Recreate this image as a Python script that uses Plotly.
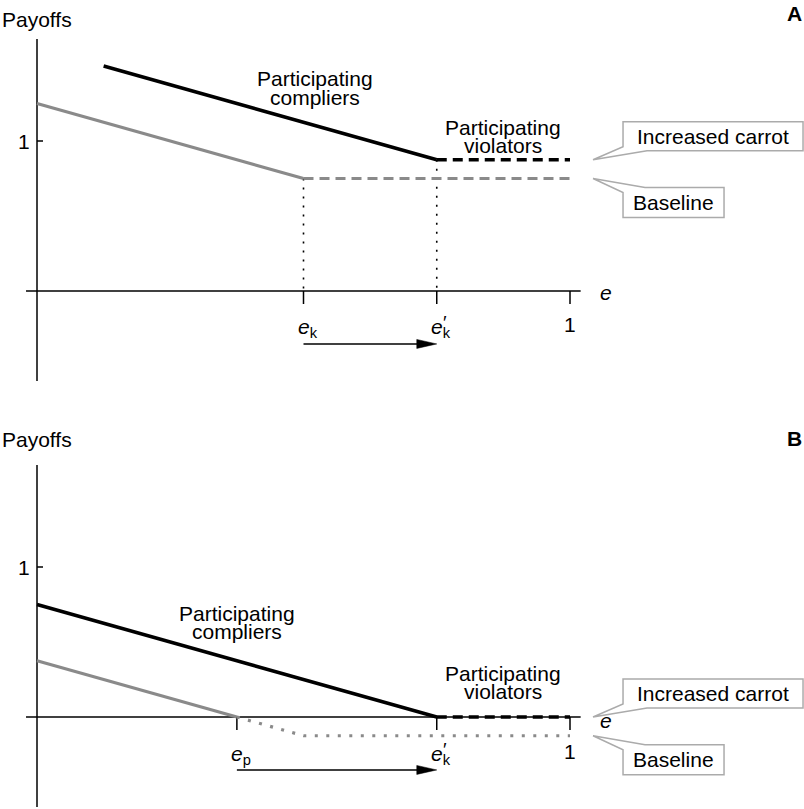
import plotly.graph_objects as go

# ---------------- data ----------------
E_P = 0.375
E_K = 0.5
E_KP = 0.75
E_ONE = 1.0

# Panel A
A_comp_inc_x = [0.125, 0.75]
A_comp_inc_y = [1.5, 0.875]
A_viol_inc_x = [0.75, 1.0]
A_viol_inc_y = [0.875, 0.875]
A_comp_base_x = [0.0, 0.5]
A_comp_base_y = [1.25, 0.75]
A_viol_base_x = [0.5, 1.0]
A_viol_base_y = [0.75, 0.75]

# Panel B
B_comp_inc_x = [0.0, 0.75]
B_comp_inc_y = [0.75, 0.0]
B_viol_inc_x = [0.75, 1.0]
B_viol_inc_y = [0.0, 0.0]
B_comp_base_x = [0.0, 0.375]
B_comp_base_y = [0.375, 0.0]
B_viol_base_x = [0.375, 0.5, 1.0]
B_viol_base_y = [0.0, -0.125, -0.125]

A_ticks = [E_K, E_KP, E_ONE]
B_ticks = [E_P, E_KP, E_ONE]
Y_TICK = 1.0

# ---------------- style ----------------
FONT = "Liberation Sans, Arial, sans-serif"
FS = 21
BLACK = "#000000"
GRAY = "#8a8a8a"
BOX = "#ababab"
W, H = 804, 809
PX_E = 533.0   # pixels per unit of e
PX_V = 150.0   # pixels per unit of payoff
X0PX = 37.0
A_ZERO_PX = 291.0
B_ZERO_PX = 717.0

xr = [-X0PX / PX_E, (W - X0PX) / PX_E]
ya_r = [(A_ZERO_PX - H / 2) / PX_V, A_ZERO_PX / PX_V]
yb_r = [(B_ZERO_PX - H) / PX_V, (B_ZERO_PX - H / 2) / PX_V]

fig = go.Figure()


def line_trace(x, y, color, width, dash, xa, ya):
    fig.add_trace(go.Scatter(x=x, y=y, mode="lines", xaxis=xa, yaxis=ya,
                             line=dict(color=color, width=width, dash=dash),
                             hoverinfo="skip", showlegend=False))


shapes = []
annots = []


def txt(xref, yref, x, y, text, xshift=0, yshift=0, size=FS):
    annots.append(dict(xref=xref, yref=yref, x=x, y=y, xshift=xshift, yshift=yshift,
                       text=text, showarrow=False,
                       font=dict(family=FONT, size=size, color=BLACK)))


def panel(xref, yref, ticks, tick_labels, comp_inc, viol_inc, comp_base, viol_base,
          base_viol_dash, vlines, arrow_from, texts, payoffs_v, letter, letter_v,
          e_shift, one_shift, prime_shift, inc_val, base_val, eaxis_shift):
    # axes
    shapes.append(dict(type="line", xref=xref, yref=yref, x0=0, x1=0, y0=-0.6, y1=1.68,
                       line=dict(color=BLACK, width=1.5), layer="below"))
    shapes.append(dict(type="line", xref=xref, yref=yref, x0=-0.0206, x1=1.02, y0=0, y1=0,
                       line=dict(color=BLACK, width=1.5), layer="below"))
    # y tick
    shapes.append(dict(type="line", xref=xref, yref=yref, xsizemode="pixel", xanchor=0,
                       x0=0, x1=6, y0=Y_TICK, y1=Y_TICK,
                       line=dict(color=BLACK, width=1.5), layer="below"))
    txt(xref, yref, 0, Y_TICK, "1", xshift=-13)
    # x ticks
    for t in ticks:
        shapes.append(dict(type="line", xref=xref, yref=yref, ysizemode="pixel", yanchor=0,
                           x0=t, x1=t, y0=0, y1=-13,
                           line=dict(color=BLACK, width=1.5), layer="below"))
    for t, lab in zip(ticks, tick_labels):
        if lab == "1":
            txt(xref, yref, t, 0, "1", yshift=one_shift)
        else:
            txt(xref, yref, t, 0, "<i>e</i><sub>" + lab.strip("'") + "</sub>",
                xshift=4, yshift=e_shift)
            if lab.endswith("'"):
                txt(xref, yref, t, 0, "′", xshift=8, yshift=prime_shift, size=19)
    txt(xref, yref, 1.0675, 0, "<i>e</i>", yshift=eaxis_shift)
    # dotted verticals
    for (vx, vy) in vlines:
        shapes.append(dict(type="line", xref=xref, yref=yref, x0=vx, x1=vx, y0=vy, y1=0,
                           line=dict(color=BLACK, width=1.6, dash="2px,7px"), layer="below"))
    # lines
    line_trace(comp_base[0], comp_base[1], GRAY, 3.2, "solid", xref, yref)
    line_trace(viol_base[0], viol_base[1], GRAY, 3.2, base_viol_dash, xref, yref)
    line_trace(comp_inc[0], comp_inc[1], BLACK, 3.5, "solid", xref, yref)
    line_trace(viol_inc[0], viol_inc[1], BLACK, 3.5, "10px,6px", xref, yref)
    # arrow
    av = -0.353
    shapes.append(dict(type="line", xref=xref, yref=yref, x0=arrow_from, x1=E_KP - 10 / PX_E,
                       y0=av, y1=av, line=dict(color=BLACK, width=1.5)))
    shapes.append(dict(type="path", xref=xref, yref=yref, xsizemode="pixel", ysizemode="pixel",
                       xanchor=E_KP, yanchor=av, path="M 0,0 L -20,4.5 L -20,-4.5 Z",
                       fillcolor=BLACK, line=dict(color=BLACK, width=0.5)))
    # curve labels
    for (tx, ty, t) in texts:
        txt(xref, yref, tx, ty, t)
    txt(xref, yref, 0, payoffs_v, "Payoffs")
    txt(xref, yref, 1.422, letter_v, "<b>" + letter + "</b>")
    # callouts
    tip_e = 1.0432
    shapes.append(dict(type="path", xref=xref, yref=yref, xsizemode="pixel", ysizemode="pixel",
                       xanchor=tip_e, yanchor=inc_val,
                       path="M 30,38 L 210,38 L 210,9 L 54,9 L 0,0 L 30,13 Z",
                       fillcolor="white", line=dict(color=BOX, width=1.5)))
    txt(xref, yref, tip_e, inc_val, "Increased carrot", xshift=120, yshift=23.5)
    shapes.append(dict(type="path", xref=xref, yref=yref, xsizemode="pixel", ysizemode="pixel",
                       xanchor=tip_e, yanchor=base_val,
                       path="M 52,-9 L 131,-9 L 131,-39 L 30,-39 L 30,-14 L 0,0 Z",
                       fillcolor="white", line=dict(color=BOX, width=1.5)))
    txt(xref, yref, tip_e, base_val, "Baseline", xshift=80.5, yshift=-24)


panel("x", "y", A_ticks, ["k", "k'", "1"],
      (A_comp_inc_x, A_comp_inc_y), (A_viol_inc_x, A_viol_inc_y),
      (A_comp_base_x, A_comp_base_y), (A_viol_base_x, A_viol_base_y), "10px,6px",
      [(E_K, A_viol_base_y[0]), (E_KP, A_viol_inc_y[0])], E_K,
      [(0.5216, 1.42, "Participating"), (0.5216, 1.293, "compliers"),
       (0.874, 1.093, "Participating"), (0.874, 0.967, "violators")],
      1.813, "A", 1.847, -37, -33, -31, A_viol_inc_y[-1], A_viol_base_y[-1], -1)

panel("x2", "y2", B_ticks, ["p", "k'", "1"],
      (B_comp_inc_x, B_comp_inc_y), (B_viol_inc_x, B_viol_inc_y),
      (B_comp_base_x, B_comp_base_y), (B_viol_base_x, B_viol_base_y), "3px,8.5px",
      [], E_P,
      [(0.375, 0.693, "Participating"), (0.375, 0.567, "compliers"),
       (0.874, 0.293, "Participating"), (0.874, 0.167, "violators")],
      1.853, "B", 1.86, -38, -34, -32, B_viol_inc_y[-1], B_viol_base_y[-1], -3)

fig.update_layout(
    width=W, height=H, margin=dict(l=0, r=0, t=0, b=0),
    paper_bgcolor="white", plot_bgcolor="white", showlegend=False,
    xaxis=dict(range=xr, domain=[0, 1], visible=False, anchor="y", fixedrange=True),
    yaxis=dict(range=ya_r, domain=[0.5, 1], visible=False, anchor="x", fixedrange=True),
    xaxis2=dict(range=xr, domain=[0, 1], visible=False, anchor="y2", fixedrange=True),
    yaxis2=dict(range=yb_r, domain=[0, 0.5], visible=False, anchor="x2", fixedrange=True),
    shapes=shapes, annotations=annots,
)

fig.write_html("out.html", config={"displayModeBar": False},
               post_script="document.body.style.margin='0';document.body.style.overflow='hidden';")
